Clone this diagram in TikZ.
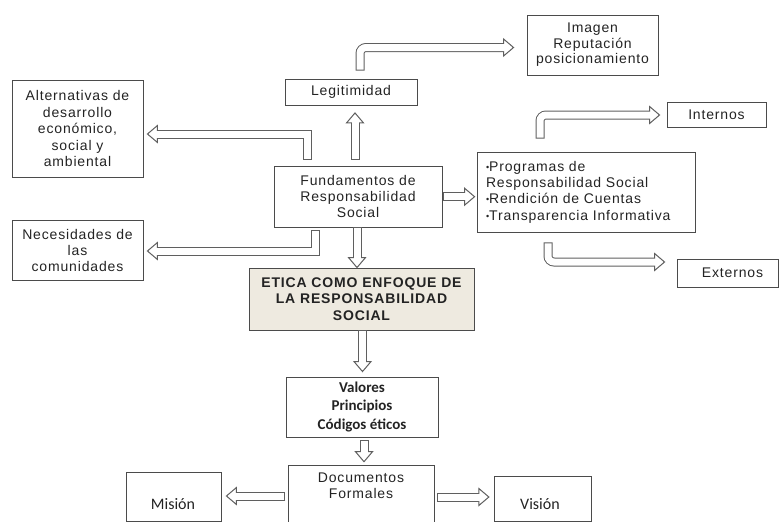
\documentclass[tikz,border=0pt]{standalone}
\usepackage{fontspec}
\setmainfont{Liberation Sans}[LetterSpace=6]
\newfontfamily\calib{Carlito}
\usetikzlibrary{calc}
\definecolor{eticafill}{RGB}{238,234,224}
\definecolor{bordc}{RGB}{75,75,75}
\definecolor{arrc}{RGB}{95,95,95}
\definecolor{txtc}{RGB}{35,35,35}

\newcommand\aw{9pt}
\newcommand\awi{7pt}
\newcommand\ahw{8.5pt}
\newcommand\ahl{10pt}

% straight hollow block arrow: #1 start, #2 tip
\newcommand\barrow[2]{%
  \coordinate (bS) at #1;
  \coordinate (bT) at #2;
  \coordinate (bB) at ($(bT)!\ahl!(bS)$);
  \draw[arrc, line width=\aw] (bS) -- (bB);
  \filldraw[fill=white, draw=arrc, line width=1pt]
    ($(bB)!\ahw!90:(bT)$) -- (bT) -- ($(bB)!\ahw!-90:(bT)$) -- cycle;
  \draw[white, line width=\awi] ($(bS)!1pt!(bB)$) -- ($(bB)!2pt!(bT)$);
}
% elbow hollow block arrow: #1 start, #2 tip, #3 corner style
\newcommand\earrow[3]{%
  \coordinate (bS) at #1;
  \coordinate (bT) at #2;
  \coordinate (bC) at (bS |- bT);
  \coordinate (bB) at ($(bT)!\ahl!(bC)$);
  \draw[arrc, line width=\aw, #3] (bS) -- (bC) -- (bB);
  \filldraw[fill=white, draw=arrc, line width=1pt]
    ($(bB)!\ahw!90:(bT)$) -- (bT) -- ($(bB)!\ahw!-90:(bT)$) -- cycle;
  \draw[white, line width=\awi, #3] ($(bS)!1pt!(bC)$) -- (bC) -- ($(bB)!2pt!(bT)$);
}

\tikzset{
  box/.style={draw=bordc, line width=0.9pt, inner sep=0pt, align=center,
    text=txtc, font=\fontsize{14}{16.5}\selectfont},
  txt/.style={inner sep=0pt, align=center, text=txtc,
    font=\fontsize{14}{16.5}\selectfont}
}
\newcommand\bul{\raisebox{1pt}{\fontsize{9}{9}\selectfont•}}

\begin{document}
\begin{tikzpicture}[x=1pt, y=-1pt]
\useasboundingbox (0,0) rectangle (779,522);
\clip (0,0) rectangle (779,522);

% boxes
\node[box, minimum width=131, minimum height=60,
  font=\fontsize{14}{15.5}\selectfont] (imagen) at (592.5,45)
  {Imagen\\Reputación\\posicionamiento};
\node[box, minimum width=132, minimum height=26] (legit) at (351,92) {Legitimidad};
\node[box, minimum width=131, minimum height=97] (alt) at (77.5,128.5)
  {Alternativas de\\desarrollo\\económico,\\social y\\ambiental};
\node[box, minimum width=131, minimum height=60,
  font=\fontsize{14}{16}\selectfont] (nec) at (77.5,250)
  {Necesidades de\\las\\comunidades};
\node[box, minimum width=168, minimum height=61,
  font=\fontsize{14}{16.3}\selectfont] (fund) at (358,196.5)
  {Fundamentos de\\Responsabilidad\\Social};
\node[box, minimum width=218, minimum height=80, inner xsep=9pt,
  text width=200pt, align=left, font=\fontsize{14}{16.3}\selectfont] (prog) at (586,192)
  {\bul Programas de\\
   Responsabilidad Social\\
   \bul Rendición de Cuentas\\
   \bul Transparencia Informativa};
\node[box, minimum width=99, minimum height=25] (int) at (716.5,114.5) {Internos};
\node[box, minimum width=101, minimum height=28, text width=101pt, align=right,
  inner xsep=0pt] (ext) at (727.5,273) {Externos\hspace*{15pt}};
\node[box, fill=eticafill, minimum width=225, minimum height=62,
  font=\bfseries\fontsize{14}{16.3}\selectfont] (etica) at (361.5,299)
  {ETICA COMO ENFOQUE DE\\LA RESPONSABILIDAD\\SOCIAL};
\node[box, minimum width=152, minimum height=60,
  font=\calib\bfseries\fontsize{15}{18.8}\selectfont] (val) at (362,407)
  {Valores\\Principios\\Códigos éticos};
\node[box, minimum width=146, minimum height=70, anchor=north] (doc) at (361,465) {};
\node[txt, font=\fontsize{14}{15.8}\selectfont] (doctxt) at (361,486) {Documentos\\Formales};
\node[box, minimum width=95, minimum height=49] (mis) at (173.5,496.5) {};
\node[txt, font=\calib\fontsize{16}{19}\selectfont] (mistxt) at (173,504) {Misión};
\node[box, minimum width=97, minimum height=45] (vis) at (542.5,498.5) {};
\node[txt, font=\calib\fontsize{16}{19}\selectfont] (vistxt) at (540,504) {Visión};

% arrows
\barrow{($(fund.north -| 355,0)+(0,-6)$)}{($(legit.south -| 355,0)+(0,7.5)$)}
\earrow{($(legit.north -| 360,0)+(0,-8)$)}{($(imagen.west |- 0,47.5)+(-13,0)$)}{rounded corners=6pt}
\earrow{($(fund.north -| 307,0)+(0,-6)$)}{($(alt.east |- 0,134)+(4,0)$)}{sharp corners}
\earrow{($(fund.south -| 315.5,0)+(0,3)$)}{($(nec.east |- 0,251)+(4,0)$)}{sharp corners}
\barrow{(fund.south -| 357,0)}{(etica.north -| 357,0)}
\barrow{($(fund.east |- 0,196.7)+(1,0)$)}{($(prog.west |- 0,196.7)+(-2,0)$)}
\earrow{($(prog.north -| 540,0)+(0,-13)$)}{($(int.west |- 0,115)+(-7,0)$)}{rounded corners=6pt}
\earrow{($(prog.south -| 548,0)+(0,10)$)}{($(ext.west |- 0,262)+(-12,0)$)}{rounded corners=6pt}
\barrow{(etica.south -| 362.5,0)}{($(val.north -| 362.5,0)+(0,-5)$)}
\barrow{($(val.south -| 364,0)+(0,3)$)}{($(doc.north -| 364,0)+(0,-3.3)$)}
\barrow{($(doc.west |- 0,496)+(-2.3,0)$)}{($(mis.east |- 0,496)+(5,0)$)}
\barrow{($(doc.east |- 0,497)+(2.7,0)$)}{($(vis.west |- 0,497)+(-4.7,0)$)}
\end{tikzpicture}
\end{document}
